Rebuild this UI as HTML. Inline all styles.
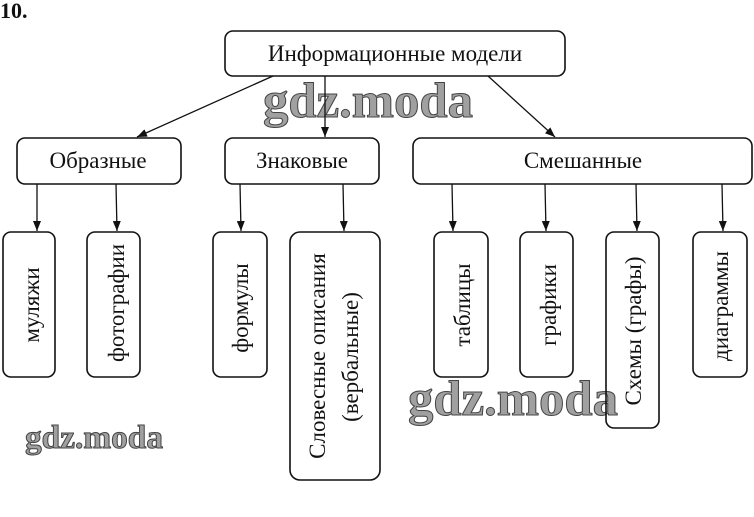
<!DOCTYPE html>
<html>
<head>
<meta charset="utf-8">
<style>
  html, body { margin: 0; padding: 0; background: #fff; }
  body { width: 754px; height: 517px; overflow: hidden; }
  svg { display: block; }
  text { font-family: "Liberation Serif", "DejaVu Serif", serif; fill: #111; }
  .wm { font-weight: bold; fill: #a0a0a0; stroke: #444; stroke-width: 1; }
</style>
</head>
<body>
<svg width="754" height="517" viewBox="0 0 754 517" xmlns="http://www.w3.org/2000/svg">
  <defs>
    <marker id="a" markerWidth="10" markerHeight="8" refX="10" refY="4" orient="auto" markerUnits="userSpaceOnUse">
      <path d="M0,0 L10,4 L0,8 z" fill="#111"/>
    </marker>
  </defs>

  <!-- watermarks (behind) -->
  <text class="wm" x="263" y="117" font-size="50" textLength="210" lengthAdjust="spacingAndGlyphs">gdz.moda</text>
  <text class="wm" x="408" y="415" font-size="50" textLength="210" lengthAdjust="spacingAndGlyphs">gdz.moda</text>
  <text class="wm" x="25" y="448" font-size="33" textLength="138" lengthAdjust="spacingAndGlyphs">gdz.moda</text>

  <!-- title number -->
  <text x="0" y="18" font-size="22" font-weight="bold">10.</text>

  <g fill="none" stroke="#111" stroke-width="1.6">
    <!-- top box -->
    <rect x="225" y="31" width="340" height="45" rx="8"/>
    <!-- level 2 -->
    <rect x="17" y="138" width="164" height="46" rx="8"/>
    <rect x="225" y="138" width="154" height="46" rx="8"/>
    <rect x="413" y="138" width="339" height="46" rx="8"/>
    <!-- level 3 -->
    <rect x="3" y="232" width="52" height="145" rx="8"/>
    <rect x="87" y="232" width="53" height="145" rx="8"/>
    <rect x="213" y="232" width="54" height="145" rx="8"/>
    <rect x="290" y="232" width="90" height="248" rx="10"/>
    <rect x="434" y="232" width="54" height="145" rx="8"/>
    <rect x="520" y="232" width="53" height="145" rx="8"/>
    <rect x="606" y="232" width="53" height="196" rx="8"/>
    <rect x="693" y="232" width="54" height="145" rx="8"/>
  </g>

  <g stroke="#111" stroke-width="1.3" fill="none">
    <line x1="273" y1="76" x2="137" y2="137" marker-end="url(#a)"/>
    <line x1="325" y1="76" x2="325" y2="137" marker-end="url(#a)"/>
    <line x1="488" y1="76" x2="555" y2="137" marker-end="url(#a)"/>

    <line x1="37" y1="184" x2="37" y2="231" marker-end="url(#a)"/>
    <line x1="116" y1="184" x2="117" y2="231" marker-end="url(#a)"/>
    <line x1="240" y1="184" x2="241" y2="231" marker-end="url(#a)"/>
    <line x1="343" y1="184" x2="344" y2="231" marker-end="url(#a)"/>

    <line x1="452" y1="184" x2="453" y2="231" marker-end="url(#a)"/>
    <line x1="545" y1="184" x2="546" y2="231" marker-end="url(#a)"/>
    <line x1="636" y1="184" x2="637" y2="231" marker-end="url(#a)"/>
    <line x1="722" y1="184" x2="723" y2="231" marker-end="url(#a)"/>
  </g>

  <!-- horizontal labels -->
  <text x="395" y="61" font-size="23" text-anchor="middle">Информационные модели</text>
  <text x="98" y="168" font-size="23" text-anchor="middle">Образные</text>
  <text x="302" y="168" font-size="23" text-anchor="middle">Знаковые</text>
  <text x="583" y="168" font-size="23" text-anchor="middle">Смешанные</text>

  <!-- vertical labels -->
  <text font-size="23" text-anchor="middle" transform="translate(39,305) rotate(-90)">муляжи</text>
  <text font-size="23" text-anchor="middle" transform="translate(124,303) rotate(-90)">фотографии</text>
  <text font-size="23" text-anchor="middle" transform="translate(248,308) rotate(-90)">формулы</text>
  <text font-size="23" text-anchor="middle" transform="translate(325,356) rotate(-90)">Словесные описания</text>
  <text font-size="23" text-anchor="middle" transform="translate(358,357) rotate(-90)">(вербальные)</text>
  <text font-size="23" text-anchor="middle" transform="translate(470,305) rotate(-90)">таблицы</text>
  <text font-size="23" text-anchor="middle" transform="translate(556,305) rotate(-90)">графики</text>
  <text font-size="23" text-anchor="middle" transform="translate(641,331) rotate(-90)">Схемы (графы)</text>
  <text font-size="23" text-anchor="middle" transform="translate(728,306) rotate(-90)">диаграммы</text>
</svg>
</body>
</html>
